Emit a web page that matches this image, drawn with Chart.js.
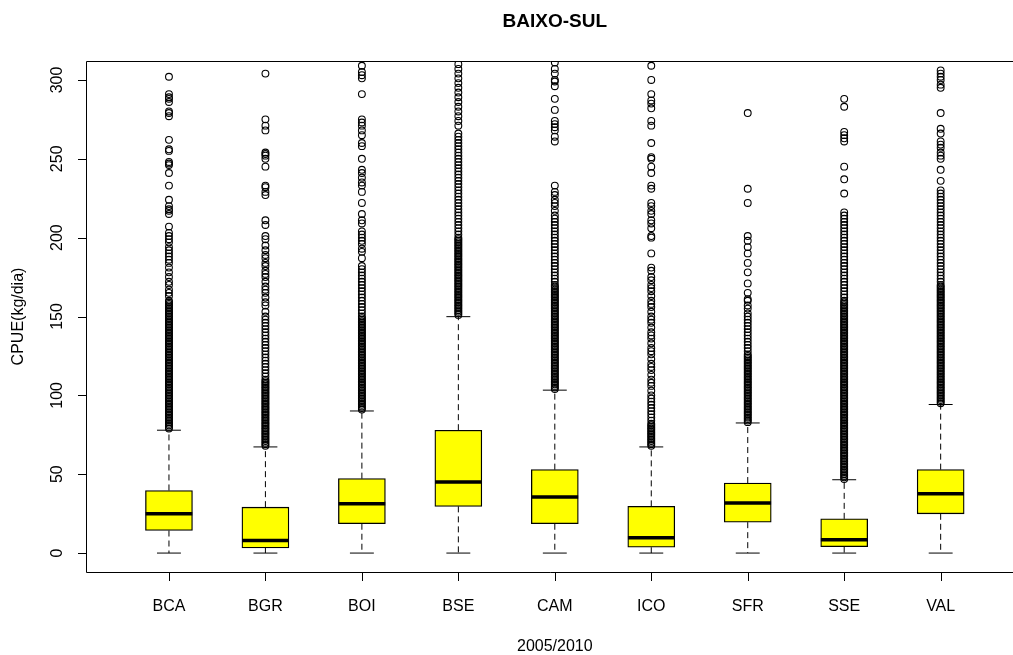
<!DOCTYPE html>
<html>
<head>
<meta charset="utf-8">
<title>BAIXO-SUL</title>
<script src="https://cdn.jsdelivr.net/npm/chart.js@4/dist/chart.umd.min.js"></script>
<style>
html, body { margin: 0; padding: 0; background: #fff; overflow: hidden; }
#wrap { position: relative; width: 1013px; height: 655px; }
</style>
</head>
<body>
<div id="wrap"><canvas id="boxChart"></canvas></div>
<script>
// boxplot stats per group
const categories = ["BCA", "BGR", "BOI", "BSE", "CAM", "ICO", "SFR", "SSE", "VAL"];
const lowWhisker = [0, 0, 0, 0, 0, 0, 0, 0, 0];
const q1 = [14.3, 3.3, 18.6, 29.6, 18.6, 3.7, 19.6, 4.1, 24.9];
const medians = [24.9, 7.9, 31.3, 45.0, 35.5, 9.7, 31.7, 8.4, 37.6];
const q3 = [39.7, 29.1, 47.2, 77.9, 52.9, 29.6, 44.4, 21.7, 52.9];
const highWhisker = [77.9, 67.3, 90.1, 149.9, 103.3, 67.3, 82.5, 46.5, 94.2];
const yTicks = [0, 50, 100, 150, 200, 250, 300];

// outliers (estimated, dense runs written out)
const outBCA = [79,80,81,82,83,84,85,86,87,88,89,90,91,92,93,94,95,96,97,98,99,100,101,102,103,104,105,106,107,108,109,110,111,112,113,114,115,116,117,118,119,120,121,122,123,124,125,126,127,128,129,130,131,132,133,134,135,136,137,138,139,140,141,142,143,144,145,146,147,148,149,150,151,152,153,154,155,156,157,158,159,160,163,165,167,170,172,175,178,181,184,186,188,190,192,194,197,199,201,203,207,215,217,218,220,224,233,241,246,247,248,255,256,262,277,279,280,286,288,289,291,302];
const outBGR = [68,69,70,71,72,73,74,75,76,77,78,79,80,81,82,83,84,85,86,87,88,89,90,91,92,93,94,95,96,97,98,99,100,101,102,103,104,105,106,107,108,109,110,112,114,116,118,120,122,124,126,128,130,132,134,136,138,140,142,144,146,148,150,153,157,159,162,165,167,169,172,175,177,179,182,184,187,189,192,195,199,201,208,211,227,229,232,233,245,250,252,253,254,268,271,275,304];
const outBOI = [91,92,93,94,95,96,97,98,99,100,101,102,103,104,105,106,107,108,109,110,111,112,113,114,115,116,117,118,119,120,121,122,123,124,125,126,127,128,129,130,131,132,133,134,135,136,137,138,139,140,141,142,143,144,145,146,147,148,149,150,152,154,156,158,160,162,164,166,168,170,172,174,176,178,180,182,187,191,193,196,198,200,202,204,209,211,215,222,229,233,235,238,241,243,250,258,260,265,268,271,273,275,291,301,303,305,309];
const outBSE = [151,152,153,154,155,156,157,158,159,160,161,162,163,164,165,166,167,168,169,170,171,172,173,174,175,176,177,178,179,180,181,182,183,184,185,186,187,188,189,190,191,192,193,194,195,196,197,198,199,200,202,204,206,208,210,212,214,216,218,220,222,224,226,228,230,232,234,236,238,240,242,244,246,248,250,252,254,256,258,260,262,264,266,271,274,277,280,283,286,289,292,295,298,301,304,307,310];
const outCAM = [104,105,106,107,108,109,110,111,112,113,114,115,116,117,118,119,120,121,122,123,124,125,126,127,128,129,130,131,132,133,134,135,136,137,138,139,140,141,142,143,144,145,146,147,148,149,150,151,152,153,154,155,156,157,158,159,160,161,162,163,164,165,166,167,168,169,170,172,174,176,178,180,182,184,186,188,190,192,194,196,198,200,202,204,206,208,210,212,214,217,220,222,224,227,229,233,261,264,268,270,272,274,281,288,296,299,300,304,307,311];
const outICO = [68,69,70,71,72,73,74,75,76,77,78,79,80,81,82,84,86,88,90,92,94,96,98,100,103,106,108,110,113,116,118,120,123,126,128,130,133,136,138,140,143,146,148,150,153,156,158,160,163,166,168,170,173,175,179,181,190,200,201,206,209,211,215,217,220,222,231,233,241,245,250,251,260,271,274,282,285,287,291,300,309];
const outSFR = [83,84,85,86,87,88,89,90,91,92,93,94,95,96,97,98,99,100,101,102,103,104,105,106,107,108,109,110,111,112,113,114,115,116,117,118,119,120,121,122,123,124,125,126,128,130,132,134,136,138,140,142,144,146,148,150,152,155,157,160,161,165,171,178,184,190,194,198,201,222,231,279];
const outSSE = [47,48,49,50,51,52,53,54,55,56,57,58,59,60,61,62,63,64,65,66,67,68,69,70,71,72,73,74,75,76,77,78,79,80,81,82,83,84,85,86,87,88,89,90,91,92,93,94,95,96,97,98,99,100,101,102,103,104,105,106,107,108,109,110,111,112,113,114,115,116,117,118,119,120,121,122,123,124,125,126,127,128,129,130,131,132,133,134,135,136,137,138,139,140,141,142,143,144,145,146,147,148,149,150,151,152,153,154,155,156,157,158,159,160,162,164,166,168,170,172,174,176,178,180,182,184,186,188,190,192,194,196,198,200,202,204,206,208,210,212,214,216,228,237,245,261,263,265,267,283,288];
const outVAL = [95,96,97,98,99,100,101,102,103,104,105,106,107,108,109,110,111,112,113,114,115,116,117,118,119,120,121,122,123,124,125,126,127,128,129,130,131,132,133,134,135,136,137,138,139,140,141,142,143,144,145,146,147,148,149,150,151,152,153,154,155,156,157,158,159,160,161,162,163,164,165,166,167,168,169,170,172,174,176,178,180,182,184,186,188,190,192,194,196,198,200,202,204,206,208,210,212,214,216,218,220,222,224,226,228,230,236,243,250,252,254,257,259,261,266,269,279,295,297,300,302,304,306];
const outliers = [outBCA, outBGR, outBOI, outBSE, outCAM, outICO, outSFR, outSSE, outVAL];

const boxHalf = 0.242;   // half box width in x units
const capHalf = 0.124;

const outPts = [];
outliers.forEach((arr, i) => arr.forEach(v => outPts.push({ x: i + 1, y: v })));

const medPts = [], whiskPts = [], capPts = [], boxPts = [];
categories.forEach((c, i) => {
	const x = i + 1;
	medPts.push({ x: x - boxHalf, y: medians[i] }, { x: x + boxHalf, y: medians[i] }, { x: x, y: null });
	whiskPts.push({ x: x, y: q3[i] }, { x: x, y: highWhisker[i] }, { x: x, y: null });
	whiskPts.push({ x: x, y: q1[i] }, { x: x, y: lowWhisker[i] }, { x: x, y: null });
	capPts.push({ x: x - capHalf, y: highWhisker[i] }, { x: x + capHalf, y: highWhisker[i] }, { x: x, y: null });
	capPts.push({ x: x - capHalf, y: lowWhisker[i] }, { x: x + capHalf, y: lowWhisker[i] }, { x: x, y: null });
	boxPts.push({ x: x, y: [q1[i], q3[i]] });
});

const FONT = "'Liberation Sans', Arial, Helvetica, sans-serif";

// R style frame, ticks and texts
const rAxes = {
	id: "rAxes",
	afterDraw(chart) {
		const ctx = chart.ctx;
		const a = chart.chartArea;
		const xs = chart.scales.x, ys = chart.scales.y;
		ctx.save();
		ctx.strokeStyle = "#000";
		ctx.lineWidth = 1;
		ctx.beginPath();
		ctx.moveTo(chart.width + 5, a.top + 0.5);
		ctx.lineTo(a.left + 0.5, a.top + 0.5);
		ctx.lineTo(a.left + 0.5, a.bottom + 0.5);
		ctx.lineTo(chart.width + 5, a.bottom + 0.5);
		// y ticks
		yTicks.forEach(v => {
			const y = Math.round(ys.getPixelForValue(v)) + 0.5;
			ctx.moveTo(a.left - 8, y);
			ctx.lineTo(a.left, y);
		});
		// x ticks
		categories.forEach((c, i) => {
			const x = Math.round(xs.getPixelForValue(i + 1)) + 0.5;
			ctx.moveTo(x, a.bottom);
			ctx.lineTo(x, a.bottom + 9);
		});
		ctx.stroke();

		ctx.fillStyle = "#000";
		ctx.font = "16px " + FONT;
		ctx.textAlign = "center";
		ctx.textBaseline = "middle";
		categories.forEach((c, i) => {
			ctx.fillText(c, xs.getPixelForValue(i + 1), 607);
		});
		yTicks.forEach(v => {
			ctx.save();
			ctx.translate(58, ys.getPixelForValue(v));
			ctx.rotate(-Math.PI / 2);
			ctx.fillText(String(v), 0, 0);
			ctx.restore();
		});
		const midX = (xs.getPixelForValue(0.14) + xs.getPixelForValue(9.86)) / 2;
		ctx.fillText("2005/2010", midX, 647);
		ctx.save();
		ctx.translate(19, (a.top + a.bottom) / 2);
		ctx.rotate(-Math.PI / 2);
		ctx.fillText("CPUE(kg/dia)", 0, 0);
		ctx.restore();
		ctx.font = "bold 19px " + FONT;
		ctx.fillText("BAIXO-SUL", midX, 22);
		ctx.restore();
	}
};

const ctx = document.getElementById("boxChart").getContext("2d");

const chart = new Chart(ctx, {
	type: "scatter",
	data: {
		datasets: [
			{
				type: "scatter",
				data: outPts,
				pointStyle: "circle",
				pointRadius: 3.4,
				pointBorderWidth: 1.1,
				pointBorderColor: "#000",
				pointBackgroundColor: "rgba(0,0,0,0)",
				order: 1,
			},
			{
				type: "line",
				data: medPts,
				borderColor: "#000",
				borderWidth: 3.5,
				pointRadius: 0,
				spanGaps: false,
				order: 2,
			},
			{
				type: "bar",
				data: boxPts,
				backgroundColor: "#ffff00",
				borderColor: "#000",
				borderWidth: 1.3,
				borderSkipped: false,
				barThickness: 47,
				order: 3,
			},
			{
				type: "line",
				data: capPts,
				borderColor: "#000",
				borderWidth: 1,
				pointRadius: 0,
				spanGaps: false,
				order: 4,
			},
			{
				type: "line",
				data: whiskPts,
				borderColor: "#000",
				borderWidth: 1,
				borderDash: [6, 4],
				pointRadius: 0,
				spanGaps: false,
				order: 5,
			},
		],
	},
	options: {
		responsive: true,
		maintainAspectRatio: false,
		animation: false,
		layout: { padding: { left: 86, top: 61, right: 0, bottom: 83 } },
		plugins: {
			legend: { display: false },
			tooltip: { enabled: false },
		},
		scales: {
			x: { type: "linear", min: 0.14, max: 9.697, display: false, offset: false },
			y: { type: "linear", min: -12, max: 312, display: false },
		},
	},
	plugins: [rAxes],
});
</script>
</body>
</html>
